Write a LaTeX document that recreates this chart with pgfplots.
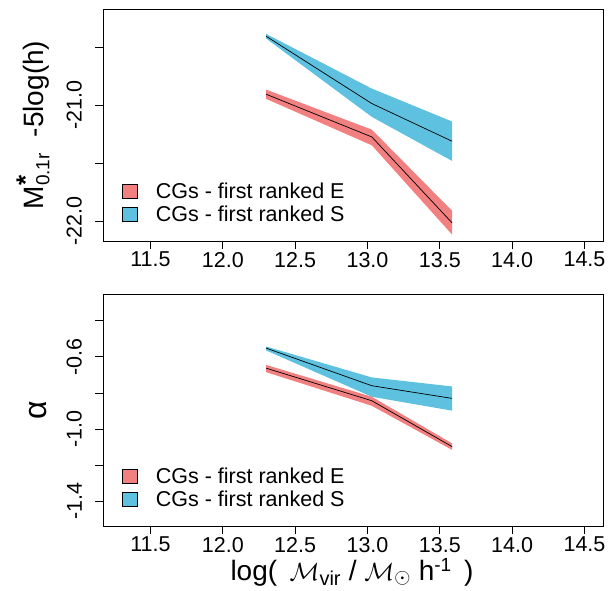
\documentclass[border=0pt]{standalone}
\usepackage{pgfplots}
\pgfplotsset{compat=1.18}
\usepackage{fontspec}
\setmainfont{Liberation Sans}
\definecolor{cgred}{RGB}{243,128,128}
\definecolor{cgblue}{RGB}{94,193,224}
\pgfplotsset{
  cgaxis/.style={
    scale only axis, width=500pt, height=232pt,
    xmin=11.172, xmax=14.628,
    axis line style={line width=0.9pt},
    tick align=outside, major tick length=8pt,
    every tick/.style={black, line width=0.9pt},
    xtick pos=left, ytick pos=left,
    xtick={11.5,12,12.5,13,13.5,14,14.5},
    xticklabels={11.5,12.0,12.5,13.0,13.5,14.0,14.5},
    tick label style={font=\fontsize{21.5}{24}\selectfont},
    yticklabel style={rotate=90, anchor=south, inner xsep=0pt, inner ysep=13pt},
    xticklabel style={inner sep=3pt},
    label style={font=\fontsize{28}{32}\selectfont},
    legend style={draw=none, fill=none, font=\fontsize{21.5}{24}\selectfont,
      row sep=2pt, inner sep=0pt,
      cells={anchor=west}},
    legend image code/.code={\draw[#1, draw=black, line width=0.6pt] (0pt,-7pt) rectangle (15pt,7pt);},
    legend cell align=left,
  }
}
\begin{document}
\begin{tikzpicture}
\useasboundingbox (0,0) rectangle (608pt,590pt);
% top panel
\begin{axis}[cgaxis, at={(103pt,349pt)}, anchor=south west,
  ymin=-22.17, ymax=-20.17,
  ytick={-22,-21.5,-21,-20.5}, yticklabels={-22.0,,-21.0,},
  ylabel={M$^{\mbox{\fontsize{26}{26}\selectfont\bfseries *}}_{\mbox{\fontsize{19}{19}\selectfont 0.1r}}$\ \ -5log(h)},
  ylabel style={at={(axis description cs:-0.14,0.5)}, anchor=center},
  legend style={at={(axis description cs:0.038,0.068)}, anchor=south west},
]
\addplot[fill=cgred, draw=none] coordinates {
  (12.30,-20.865) (13.03,-21.21) (13.585,-21.91)
  (13.585,-22.115) (13.03,-21.345) (12.30,-20.945)} -- cycle;
\addlegendentry{\hspace{16pt}CGs - first ranked E}
\addplot[fill=cgblue, draw=none] coordinates {
  (12.30,-20.385) (13.03,-20.856) (13.585,-21.14)
  (13.585,-21.48) (13.03,-21.10) (12.30,-20.425)} -- cycle;
\addlegendentry{\hspace{16pt}CGs - first ranked S}
\addplot[black, line width=0.7pt, forget plot] coordinates {
  (12.30,-20.905) (13.03,-21.273) (13.585,-22.014)};
\addplot[black, line width=0.7pt, forget plot] coordinates {
  (12.30,-20.405) (13.03,-20.985) (13.585,-21.31)};
\end{axis}
% bottom panel
\begin{axis}[cgaxis, at={(103pt,64pt)}, anchor=south west,
  ymin=-1.536, ymax=-0.2525,
  ytick={-1.4,-1.2,-1.0,-0.8,-0.6,-0.4}, yticklabels={-1.4,,-1.0,,-0.6,},
  ylabel={\fontsize{32}{34}\selectfont α},
  ylabel style={at={(axis description cs:-0.13,0.5)}, anchor=center},
  xlabel={log(\, $\mathcal{M}_{\mbox{\fontsize{20}{20}\selectfont vir}}$ / $\mathcal{M}_{\odot}$ h$^{\mbox{\fontsize{19}{19}\selectfont -1}}$\, )},
  xlabel style={at={(axis description cs:0.498,-0.233)}, anchor=base},
  legend style={at={(axis description cs:0.038,0.068)}, anchor=south west},
]
\addplot[fill=cgred, draw=none] coordinates {
  (12.30,-0.645) (13.03,-0.821) (13.585,-1.079)
  (13.585,-1.115) (13.03,-0.871) (12.30,-0.685)} -- cycle;
\addlegendentry{\hspace{16pt}CGs - first ranked E}
\addplot[fill=cgblue, draw=none] coordinates {
  (12.30,-0.543) (13.03,-0.714) (13.585,-0.764)
  (13.585,-0.898) (13.03,-0.821) (12.30,-0.565)} -- cycle;
\addlegendentry{\hspace{16pt}CGs - first ranked S}
\addplot[black, line width=0.7pt, forget plot] coordinates {
  (12.30,-0.663) (13.03,-0.843) (13.585,-1.097)};
\addplot[black, line width=0.7pt, forget plot] coordinates {
  (12.30,-0.552) (13.03,-0.76) (13.585,-0.830)};
\end{axis}
\end{tikzpicture}
\end{document}
